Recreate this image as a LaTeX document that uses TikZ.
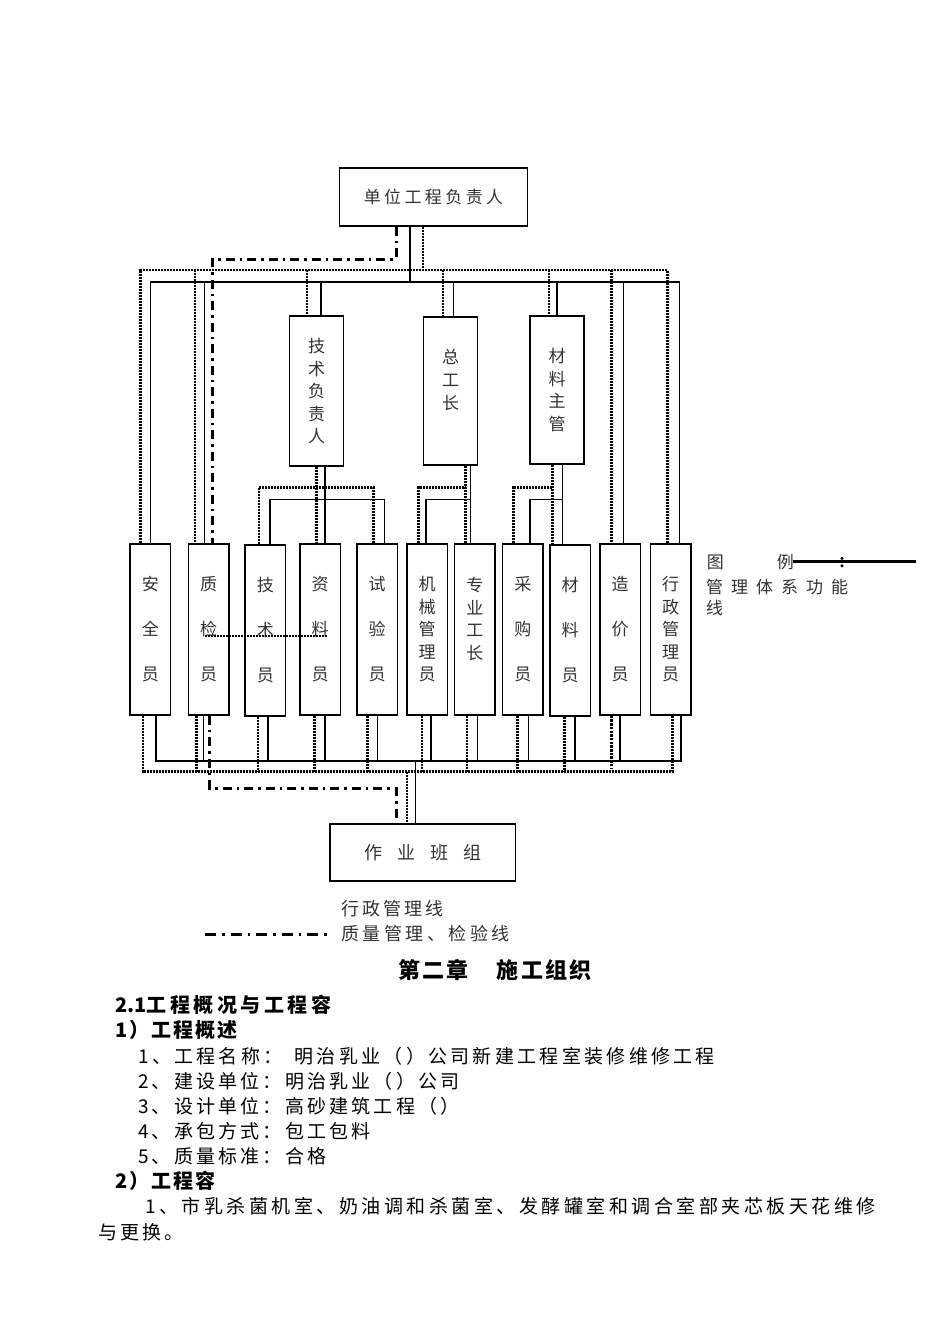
\documentclass[tikz,border=0pt]{standalone}
\usepackage{fontspec}
\setmainfont{Noto Sans CJK SC}
\makeatletter
\newcommand\spc[2]{\def\spc@k{#1}\spc@b#2\spc@end}
\def\spc@end{\spc@end}
\def\spc@b#1{#1\spc@a}
\def\spc@a#1{\ifx#1\spc@end\else\kern\spc@k\relax#1\expandafter\spc@a\fi}
\makeatother
\begin{document}
\begin{tikzpicture}[x=1pt,y=-1pt,
  box/.style={draw, line width=1.5pt, rectangle, inner sep=0pt, align=center, text=black!80,
              font=\fontsize{17}{22.5}\selectfont},
  tall/.style={box, minimum width=54pt},
  low/.style={box, minimum width=40.5pt, minimum height=171pt},
  three/.style={font=\fontsize{17}{45}\selectfont},
  sl/.style={line width=1.5pt},
  dl/.style={line width=2.5pt, dash pattern=on 2pt off 1pt},
  dlh/.style={line width=3pt, dash pattern=on 2.5pt off 1.2pt},
  ddl/.style={line width=3pt, dash pattern=on 9pt off 5pt on 2.5pt off 5pt},
  txt/.style={anchor=west, inner sep=0pt},
  body/.style={txt, font=\fontsize{19}{22}\selectfont},
  bodyb/.style={txt, font=\fontsize{20}{22}\selectfont\bfseries},
  leg/.style={txt, text=black!80, font=\fontsize{17}{20}\selectfont},
  legb/.style={txt, text=black!80, font=\fontsize{18}{20}\selectfont}
]
\useasboundingbox (0,0) rectangle (950,1344);
\fill[white] (0,0) rectangle (950,1344);

% ---------- nodes ----------
\node[box, minimum width=188pt, minimum height=58pt] (top) at (433.5,197) {\spc{3.4pt}{单位工程负责人}};
\node[tall, minimum height=150pt] (jsfz) at (316.65,391) {技\\术\\负\\责\\人};
\node[tall, minimum height=148pt, font=\fontsize{17}{23.3}\selectfont] (zgz) at (450.5,391) {总\\工\\长\\\mbox{}};
\node[tall, minimum height=148pt] (clzg) at (557.2,390) {材\\料\\主\\管};

\node[low, three] (b1) at (150.35,629.5) {安\\全\\员};
\node[low, three] (b2) at (208.5,629.5) {质\\检\\员};
\node[low, three] (b3) at (265.4,630.5) {技\\术\\员};
\node[low, three] (b4) at (320,629.5) {资\\料\\员};
\node[low, three] (b5) at (377,629.5) {试\\验\\员};
\node[low] (b6) at (427.2,629.5) {机\\械\\管\\理\\员};
\node[low] (b7) at (474.8,629.5) {专\\业\\工\\长\\\mbox{}};
\node[low, three] (b8) at (522.8,629.5) {采\\购\\员};
\node[low, three] (b9) at (570,630.5) {材\\料\\员};
\node[low, three] (b10) at (620,629.5) {造\\价\\员};
\node[low] (b11) at (670.5,629.5) {行\\政\\管\\理\\员};

\node[box, minimum width=185.6pt, minimum height=57pt, font=\fontsize{18}{20}\selectfont] (zybz) at (422.8,852.5) {\spc{15pt}{作业班组}};

% ---------- from top box ----------
\draw[sl] (top.south -| 410,0) -- (410,282);
\draw[dl] (top.south -| 423,0) -- (423,270);
\draw[ddl] (top.south -| 396,0) -- (396,259) -- (212.6,259) -- (212.6,0 |- b2.north);

% solid top bus
\draw[sl] (150.7,0 |- b1.north) -- (150.7,282) -- (679.3,282) -- (679.3,0 |- b11.north);
\draw[sl] (204.4,282) -- (204.4,0 |- b2.north);
\draw[sl] (321,282) -- (321,0 |- jsfz.north);
\draw[sl] (453.3,282) -- (453.3,0 |- zgz.north);
\draw[sl] (557,282) -- (557,0 |- clzg.north);
\draw[sl] (623.7,282) -- (623.7,0 |- b10.north);

% dotted top bus
\draw[dl] (140.4,0 |- b1.north) -- (140.4,270) -- (667.4,270) -- (667.4,0 |- b11.north);
\draw[dl] (195.2,270) -- (195.2,0 |- b2.north);
\draw[dl] (307,270) -- (307,0 |- jsfz.north);
\draw[dl] (443,270) -- (443,0 |- zgz.north);
\draw[dl] (548.9,270) -- (548.9,0 |- clzg.north);
\draw[dl] (611.5,270) -- (611.5,0 |- b10.north);

% under 技术负责人
\draw[sl] (jsfz.south -| 324.8,0) -- (324.8,0 |- b4.north);
\draw[dl] (jsfz.south -| 316.3,0) -- (316.3,0 |- b4.north);
\draw[sl] (270,0 |- b3.north) -- (270,499.3) -- (384.4,499.3) -- (384.4,0 |- b5.north);
\draw[dl] (258.9,0 |- b3.north) -- (258.9,487.3) -- (373.7,487.3) -- (373.7,0 |- b5.north);

% under 总工长
\draw[sl] (zgz.south -| 470.7,0) -- (470.7,0 |- b7.north);
\draw[dl] (zgz.south -| 465.6,0) -- (465.6,0 |- b7.north);
\draw[sl] (425.9,0 |- b6.north) -- (425.9,499.3) -- (470.7,499.3);
\draw[dl] (418.5,0 |- b6.north) -- (418.5,487.3) -- (465.6,487.3);

% under 材料主管
\draw[sl] (clzg.south -| 562.6,0) -- (562.6,0 |- b9.north);
\draw[dl] (clzg.south -| 552.6,0) -- (552.6,0 |- b9.north);
\draw[sl] (530,0 |- b8.north) -- (530,499.3) -- (562.6,499.3);
\draw[dl] (513.3,0 |- b8.north) -- (513.3,487.3) -- (552.6,487.3);

% dotted line across 质检员 / 技术员 / 资料员
\coordinate (qa) at (205,636);
\coordinate (qb) at (327.4,636);
\draw[dl] (qa) -- (qb);

% ---------- bottom buses ----------
\draw[sl] (156,0 |- b1.south) -- (156,761) -- (681,761) -- (681,0 |- b11.south);
\foreach \x/\n in {203.3/b2, 268/b3, 324.8/b4, 377.4/b5, 431/b6, 477.4/b7, 528.5/b8, 574.8/b9, 620/b10}
  \draw[sl] (\x,0 |- \n.south) -- (\x,761);
\draw[dl] (143,0 |- b1.south) -- (143,771.7) -- (672.5,771.7) -- (672.5,0 |- b11.south);
\foreach \x/\n in {196.5/b2, 258/b3, 314.4/b4, 367.4/b5, 421.9/b6, 467/b7, 517.4/b8, 564.4/b9}
  \draw[dl] (\x,0 |- \n.south) -- (\x,771.7);
\draw[dlh] (611.5,0 |- b10.south) -- (611.5,768);

\draw[sl] (415.6,761) -- (415.6,0 |- zybz.north);
\draw[dl] (407,771.7) -- (407,0 |- zybz.north);
\draw[ddl] (209.5,0 |- b2.south) -- (209.5,788.3) -- (396,788.3) -- (396,0 |- zybz.north);

% ---------- legend right ----------
\node[leg] (tu) at (706.7,561.7) {图\kern53pt 例};
\draw[line width=2.5pt] (793,561.7) -- (916,561.7);
\fill (842,558.4) circle (1.7pt);
\fill (842,565.8) circle (1.7pt);
\node[leg] (gl) at (706,586.7) {\spc{8pt}{管理体系功能}};
\node[leg] (xian) at (706,608.3) {线};

% ---------- legend bottom ----------
\node[legb] (xz) at (341,908.3) {\spc{3.1pt}{行政管理线}};
\node[legb] (zl) at (341,933.3) {\spc{3.5pt}{质量管理、检验线}};
\draw[ddl, line width=2.6pt, dash pattern=on 11pt off 6pt on 2.5pt off 6pt] (205,934.3) -- (327,934.3);

% ---------- heading ----------
\node[inner sep=0pt, font=\fontsize{22}{24}\selectfont\bfseries] (h) at (495,970)
  {\spc{2.3pt}{第二章}\kern28pt\spc{2.3pt}{施工组织}};

% ---------- body ----------
\node[bodyb] (l1) at (115,1005) {2.1\spc{3.5pt}{工程概况与工程容}};
\node[bodyb] (l2) at (115,1030) {\spc{2pt}{1）工程概述}};
\node[body] (l3) at (138,1056) {\spc{3.3pt}{1、工程名称：}\kern12pt\spc{3.3pt}{明治乳业（）公司新建工程室装修维修工程}};
\node[body] (l4) at (138,1081) {\spc{3.2pt}{2、建设单位：明治乳业（）公司}};
\node[body] (l5) at (138,1106) {\spc{3.2pt}{3、设计单位：高砂建筑工程（）}};
\node[body] (l6) at (138,1131) {\spc{3.2pt}{4、承包方式：包工包料}};
\node[body] (l7) at (138,1156) {\spc{3.2pt}{5、质量标准：合格}};
\node[bodyb] (l8) at (115,1181) {\spc{2pt}{2）工程容}};
\node[body] (l9) at (145,1206) {\spc{3.5pt}{1、市乳杀菌机室、奶油调和杀菌室、发酵罐室和调合室部夹芯板天花维修}};
\node[body] (l10) at (98,1232) {\spc{3pt}{与更换。}};
\end{tikzpicture}
\end{document}
